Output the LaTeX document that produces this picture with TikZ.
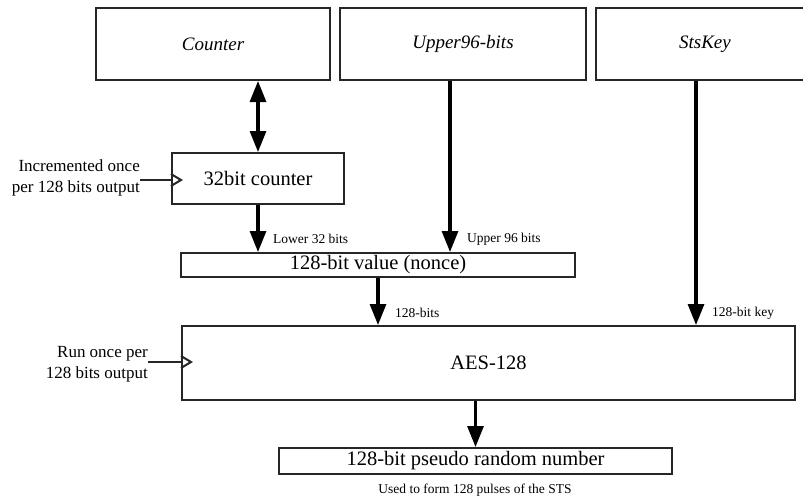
\documentclass[tikz,border=0pt]{standalone}
\usepackage{fontspec}
\setmainfont{Liberation Serif}
\usetikzlibrary{arrows.meta,calc}
\begin{document}
\begin{tikzpicture}[x=1pt,y=-1pt,
  box/.style={draw=black!85,line width=2pt,inner sep=0pt,minimum width=#1},
  bigtxt/.style={font=\fontsize{20.5}{22}\selectfont},
  toptxt/.style={font=\fontsize{19}{21}\selectfont\itshape},
  smalltxt/.style={font=\fontsize{13.5}{15}\selectfont,inner sep=0pt},
  sidetxt/.style={font=\fontsize{17}{21}\selectfont,align=right,inner sep=0pt},
  flow/.style={line width=3.1pt,-{Triangle[width=16pt,length=21pt]}},
  bothflow/.style={line width=3.1pt,{Triangle[width=16pt,length=21pt]}-{Triangle[width=16pt,length=21pt]}},
  clockline/.style={line width=2pt,draw=black!85}
]
\clip (0,0) rectangle (803,499);
\fill[white] (0,0) rectangle (803,499);

% top boxes
\node[box=234pt,minimum height=72pt,toptxt] (counter) at (213,44) {Counter};
\node[box=246pt,minimum height=72pt,toptxt] (upper) at (463,44) {Upper96-bits};
\node[box=218pt,minimum height=72pt,toptxt] (stskey) at (705,44) {StsKey};

% middle boxes
\node[box=172pt,minimum height=51pt,bigtxt] (cnt32) at (258,178.5) {32bit counter};
\node[box=394pt,minimum height=24pt,bigtxt] (nonce) at (378,265) {128-bit value (nonce)};
\node[box=613pt,minimum height=74pt,bigtxt] (aes) at (488.5,363) {AES-128};
\node[box=393pt,minimum height=26pt,bigtxt] (prn) at (475.5,461) {128-bit pseudo random number};

% connectors
\draw[bothflow] (cnt32.north |- counter.south) -- (cnt32.north);
\draw[flow] (cnt32.south) -- (cnt32.south |- nonce.north);
\coordinate (upout) at ([xshift=-13pt]upper.south);
\draw[flow] (upout) -- (upout |- nonce.north);
\draw[flow] (nonce.south) -- (nonce.south |- aes.north);
\coordinate (keyout) at ([xshift=-9pt]stskey.south);
\draw[flow] (keyout) -- (keyout |- aes.north);
\draw[flow] (prn.north |- aes.south) -- (prn.north);

% connector labels
\node[smalltxt,anchor=west] (lbllow) at ($(cnt32.south |- nonce.north)+(15,-13)$) {Lower 32 bits};
\node[smalltxt,anchor=west] (lblup) at ($(upout |- nonce.north)+(17,-13)$) {Upper 96 bits};
\node[smalltxt,anchor=west] (lbl128) at ($(nonce.south |- aes.north)+(17,-12)$) {128-bits};
\node[smalltxt,anchor=west] (lblkey) at ($(keyout |- aes.north)+(16,-12)$) {128-bit key};
\node[smalltxt] (lblused) at (475,490) {Used to form 128 pulses of the STS};

% clock inputs
\node[sidetxt,anchor=east] (incr) at (140,178) {Incremented once\\per 128 bits output};
\coordinate (cntclk) at (cnt32.west |- 0,180);
\draw[clockline] (incr.east |- cntclk) -- (cntclk);
\draw[clockline,line join=miter] ($(cntclk)+(0,-6)$) -- ($(cntclk)+(10,0)$) -- ($(cntclk)+(0,6)$);

\node[sidetxt,anchor=east] (runonce) at (148,364) {Run once per\\128 bits output};
\coordinate (aesclk) at (aes.west |- 0,362);
\draw[clockline] (runonce.east |- aesclk) -- (aesclk);
\draw[clockline,line join=miter] ($(aesclk)+(0,-6)$) -- ($(aesclk)+(10,0)$) -- ($(aesclk)+(0,6)$);
\end{tikzpicture}
\end{document}
